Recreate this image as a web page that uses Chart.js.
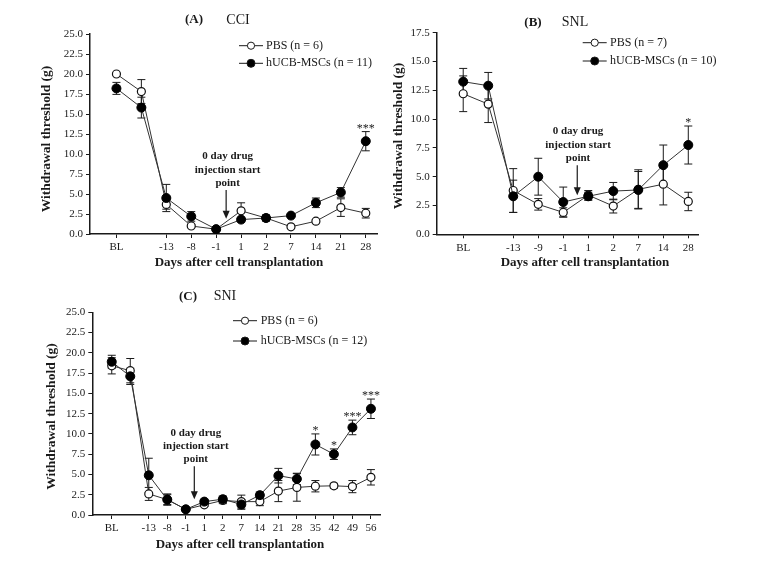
<!DOCTYPE html>
<html lang="en">
<head>
  <meta charset="UTF-8">
  <title>Withdrawal threshold after cell transplantation</title>
  <script src="https://cdn.jsdelivr.net/npm/chart.js@4.4.0/dist/chart.umd.min.js"></script>
  <style>
    body {
      margin: 0;
      background: #fff;
      width: 761px;
      height: 569px;
      position: relative;
      overflow: hidden;
    }
    .panel { position: absolute; }
  </style>
</head>
<body>
  <div class="panel" style="left:0;top:0"><canvas id="chart-cci" width="390" height="280"></canvas></div>
  <div class="panel" style="left:390px;top:0"><canvas id="chart-snl" width="330" height="280"></canvas></div>
  <div class="panel" style="left:0;top:280px"><canvas id="chart-sni" width="400" height="289"></canvas></div>

  <script>
    // (A) CCI
    const labelsCCI = ['BL', '', '-13', '-8', '-1', '1', '2', '7', '14', '21', '28'];
    const pbsCCI = [20.0, 17.8, 3.7, 1.0, 0.6, 2.9, 2.0, 0.9, 1.6, 3.3, 2.6];
    const pbsErrCCI = [0, 1.5, 0.6, 0.2, 0.1, 1.0, 0.3, 0.2, 0.2, 1.1, 0.6];
    const mscCCI = [18.2, 15.8, 4.5, 2.2, 0.6, 1.8, 2.0, 2.3, 3.9, 5.2, 11.6];
    const mscErrCCI = [0.75, 1.3, 1.7, 0.6, 0.1, 0.3, 0.4, 0.2, 0.6, 0.6, 1.2];
    const starsCCI = ['', '', '', '', '', '', '', '', '', '', '***'];

    // (B) SNL
    const labelsSNL = ['BL', '', '-13', '-9', '-1', '1', '2', '7', '14', '28'];
    const pbsSNL = [12.2, 11.3, 3.8, 2.6, 1.9, 3.4, 2.45, 3.9, 4.35, 2.85];
    const pbsErrSNL = [1.55, 1.6, 1.9, 0.5, 0.4, 0.4, 0.6, 1.7, 1.8, 0.8];
    const mscSNL = [13.25, 12.9, 3.3, 5.0, 2.8, 3.3, 3.75, 3.85, 6.0, 7.75];
    const mscErrSNL = [1.15, 1.15, 1.4, 1.6, 1.3, 0.35, 0.75, 1.6, 1.75, 1.65];
    const starsSNL = ['', '', '', '', '', '', '', '', '', '*'];

    // (C) SNI
    const labelsSNI = ['BL', '', '-13', '-8', '-1', '1', '2', '7', '14', '21', '28', '35', '42', '49', '56'];
    const pbsSNI = [18.4, 17.8, 2.6, 1.9, 0.7, 1.25, 1.8, 1.65, 1.65, 2.95, 3.4, 3.55, 3.6, 3.5, 4.65];
    const pbsErrSNI = [1.0, 1.5, 0.8, 0.6, 0.1, 0.2, 0.4, 0.8, 0.5, 1.3, 1.7, 0.7, 0.3, 0.75, 0.95];
    const mscSNI = [18.9, 17.1, 4.9, 1.9, 0.7, 1.65, 1.95, 1.3, 2.45, 4.85, 4.45, 8.7, 7.5, 10.8, 13.1];
    const mscErrSNI = [0.8, 1.0, 2.1, 0.7, 0.1, 0.3, 0.4, 0.6, 0.4, 0.9, 0.7, 1.3, 0.65, 0.9, 1.2];
    const starsSNI = ['', '', '', '', '', '', '', '', '', '', '', '*', '*', '***', '***'];

    const SERIF = "'Liberation Serif', 'Times New Roman', serif";
    const INK = '#1a1a1a';

    function decor(p) {
      return {
        id: 'decor',
        beforeDatasetsDraw(chart) {
          const ctx = chart.ctx, xs = chart.scales.x, ys = chart.scales.y;
          ctx.save();
          ctx.strokeStyle = INK;
          ctx.lineWidth = 1;
          chart.data.datasets.forEach(ds => {
            ds.data.forEach((pt, i) => {
              const e = ds.errors[i];
              if (!e) return;
              const x = xs.getPixelForValue(pt.x);
              const yt = ys.getPixelForValue(pt.y + e);
              const yb = ys.getPixelForValue(pt.y - e);
              ctx.beginPath();
              ctx.moveTo(x, yt); ctx.lineTo(x, yb);
              ctx.moveTo(x - 4, yt); ctx.lineTo(x + 4, yt);
              ctx.moveTo(x - 4, yb); ctx.lineTo(x + 4, yb);
              ctx.stroke();
            });
          });
          ctx.restore();
        },
        afterDraw(chart) {
          const ctx = chart.ctx, xs = chart.scales.x, ys = chart.scales.y;
          ctx.save();
          ctx.fillStyle = INK;
          ctx.strokeStyle = INK;

          // significance stars over the hUCB-MSCs error bars
          ctx.font = '12px ' + SERIF;
          ctx.textAlign = 'center';
          ctx.textBaseline = 'middle';
          p.stars.forEach((s, i) => {
            if (!s) return;
            const x = xs.getPixelForValue(i);
            const y = ys.getPixelForValue(p.msc[i] + p.mscErr[i]) - 3;
            ctx.fillText(s, x, y);
          });

          // "0 day drug injection start point" note + arrow
          const ax = xs.getPixelForValue(p.arrow.x);
          const tip = ys.getPixelForValue(p.arrow.tip);
          const tail = ys.getPixelForValue(p.arrow.tail);
          const tx = xs.getPixelForValue(p.arrow.textX);
          ctx.font = 'bold 11px ' + SERIF;
          ['0 day drug', 'injection start', 'point'].forEach((t, k) => {
            ctx.fillText(t, tx, tail - 7 - (2 - k) * 13.3);
          });
          ctx.lineWidth = 1.2;
          ctx.beginPath();
          ctx.moveTo(ax, tail);
          ctx.lineTo(ax, tip - 6);
          ctx.stroke();
          ctx.beginPath();
          ctx.moveTo(ax, tip);
          ctx.lineTo(ax - 3.5, tip - 8);
          ctx.lineTo(ax + 3.5, tip - 8);
          ctx.closePath();
          ctx.fill();

          // panel title
          ctx.font = 'bold 13px ' + SERIF;
          ctx.fillText(p.title[0], p.titlePos[0], p.titlePos[2]);
          ctx.font = '14px ' + SERIF;
          ctx.fillText(p.title[1], p.titlePos[1], p.titlePos[2]);

          // legend
          const lg = p.legend;
          [[p.legendText[0], '#fff', 3.6], [p.legendText[1], '#000', 4]].forEach((row, k) => {
            const y = lg.y[k];
            ctx.lineWidth = 1;
            ctx.beginPath();
            ctx.moveTo(lg.x1, y); ctx.lineTo(lg.x2, y);
            ctx.stroke();
            ctx.beginPath();
            ctx.arc((lg.x1 + lg.x2) / 2, y, row[2], 0, Math.PI * 2);
            ctx.fillStyle = row[1];
            ctx.fill();
            ctx.stroke();
            ctx.fillStyle = INK;
            ctx.font = '12px ' + SERIF;
            ctx.textAlign = 'left';
            ctx.fillText(row[0], lg.tx, y);
          });

          // axis titles
          ctx.textAlign = 'center';
          ctx.font = 'bold 13px ' + SERIF;
          ctx.fillText('Days after cell transplantation', p.xTitle[0], p.xTitle[1]);
          ctx.save();
          ctx.translate(p.yTitle[0], p.yTitle[1]);
          ctx.rotate(-Math.PI / 2);
          ctx.font = 'bold 13.5px ' + SERIF;
          ctx.fillText('Withdrawal threshold (g)', 0, 0);
          ctx.restore();

          ctx.restore();
        }
      };
    }

    function createPanel(id, p) {
      const toPts = arr => arr.map((v, i) => ({ x: i, y: v }));
      const axisGrid = { display: true, drawOnChartArea: false, drawTicks: true, tickLength: 4, color: INK, lineWidth: 1 };
      const axisBorder = { display: true, color: INK, width: 1.5 };
      const tickFont = { family: SERIF, size: 11 };

      new Chart(document.getElementById(id), {
        type: 'line',
        data: {
          datasets: [
            {
              label: p.legendText[1],
              data: toPts(p.msc),
              errors: p.mscErr,
              order: 0,
              borderColor: '#333',
              borderWidth: 1,
              pointRadius: 4.5,
              pointBackgroundColor: '#000',
              pointBorderColor: '#000',
              pointBorderWidth: 1
            },
            {
              label: p.legendText[0],
              data: toPts(p.pbs),
              errors: p.pbsErr,
              order: 1,
              borderColor: '#333',
              borderWidth: 1,
              pointRadius: 4,
              pointBackgroundColor: '#fff',
              pointBorderColor: '#111',
              pointBorderWidth: 1.2
            }
          ]
        },
        options: {
          responsive: false,
          animation: false,
          devicePixelRatio: 1,
          events: [],
          layout: { padding: { top: p.area.top, right: p.area.right, left: 0, bottom: 0 } },
          plugins: { legend: { display: false }, tooltip: { enabled: false } },
          scales: {
            x: {
              type: 'linear',
              min: p.xRange[0],
              max: p.xRange[1],
              afterFit: s => { s.height = p.area.xh; },
              afterBuildTicks: s => {
                s.ticks = p.labels.map((l, i) => ({ value: i })).filter(t => p.labels[t.value] !== '');
              },
              grid: axisGrid,
              border: axisBorder,
              ticks: {
                autoSkip: false,
                maxRotation: 0,
                padding: 3,
                color: INK,
                font: tickFont,
                callback: v => p.labels[v]
              }
            },
            y: {
              min: 0,
              max: p.yMax,
              afterFit: s => { s.width = p.area.left; },
              grid: axisGrid,
              border: axisBorder,
              ticks: {
                stepSize: 2.5,
                padding: 3,
                color: INK,
                font: tickFont,
                callback: v => v.toFixed(1)
              }
            }
          }
        },
        plugins: [decor(p)]
      });
    }

    createPanel('chart-cci', {
      labels: labelsCCI, pbs: pbsCCI, pbsErr: pbsErrCCI, msc: mscCCI, mscErr: mscErrCCI, stars: starsCCI,
      yMax: 25, xRange: [-1.06, 10.45],
      area: { left: 90, right: 13, top: 34, xh: 46 },
      arrow: { x: 4.4, textX: 4.46, tip: 1.9, tail: 5.5 },
      title: ['(A)', 'CCI'], titlePos: [194, 238, 20],
      legendText: ['PBS (n = 6)', 'hUCB-MSCs (n = 11)'],
      legend: { x1: 239, x2: 263, tx: 266, y: [45.7, 63.3] },
      xTitle: [239, 262.7], yTitle: [47, 139]
    });

    createPanel('chart-snl', {
      labels: labelsSNL, pbs: pbsSNL, pbsErr: pbsErrSNL, msc: mscSNL, mscErr: mscErrSNL, stars: starsSNL,
      yMax: 17.5, xRange: [-1.06, 9.4],
      area: { left: 46.7, right: 21.7, top: 32.7, xh: 45.7 },
      arrow: { x: 4.56, textX: 4.59, tip: 3.4, tail: 6.0 },
      title: ['(B)', 'SNL'], titlePos: [143, 185, 22.7],
      legendText: ['PBS (n = 7)', 'hUCB-MSCs (n = 10)'],
      legend: { x1: 192.7, x2: 216.7, tx: 220, y: [42.7, 61] },
      xTitle: [195, 262.7], yTitle: [9, 136]
    });

    createPanel('chart-sni', {
      labels: labelsSNI, pbs: pbsSNI, pbsErr: pbsErrSNI, msc: mscSNI, mscErr: mscErrSNI, stars: starsSNI,
      yMax: 25, xRange: [-1.05, 14.49],
      area: { left: 92.3, right: 20, top: 32.3, xh: 54 },
      arrow: { x: 4.46, textX: 4.54, tip: 1.95, tail: 6.0 },
      title: ['(C)', 'SNI'], titlePos: [188, 225, 16.7],
      legendText: ['PBS (n = 6)', 'hUCB-MSCs (n = 12)'],
      legend: { x1: 233, x2: 257, tx: 260.7, y: [40.7, 61] },
      xTitle: [240, 265], yTitle: [52, 136.5]
    });
  </script>
</body>
</html>
